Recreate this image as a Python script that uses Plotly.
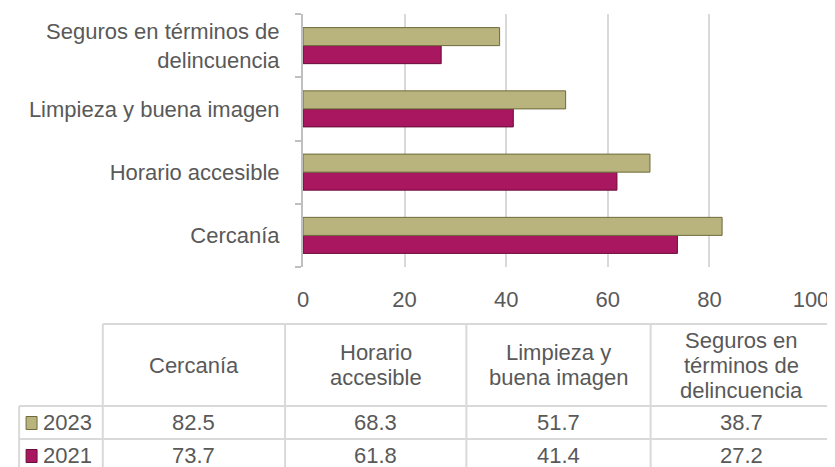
import plotly.graph_objects as go

# ---------------- data ----------------
categories = ["Cercanía", "Horario accesible", "Limpieza y buena imagen",
              "Seguros en términos de delincuencia"]
axis_labels = ["Cercanía", "Horario accesible", "Limpieza y buena imagen",
               "Seguros en términos de<br>delincuencia"]
table_headers = ["Cercanía", "Horario<br>accesible", "Limpieza y<br>buena imagen",
                 "Seguros en<br>términos de<br>delincuencia"]
series_names = ["2023", "2021"]
values_2023 = [82.5, 68.3, 51.7, 38.7]
values_2021 = [73.7, 61.8, 41.4, 27.2]
x_ticks = [0, 20, 40, 60, 80, 100]

# ---------------- style ----------------
FONT = "Arial, Liberation Sans, sans-serif"
TXT = "#595959"
GRID = "#D9D9D9"
FILL = {"2023": "#B9B47E", "2021": "#A8175F"}
EDGE = {"2023": "#6E6A3C", "2021": "#6A0C3A"}
FS = 22

OFF = 8  # page body margin of the browser
W, H = 835 - OFF, 467 - OFF
L, R, T, B = 303 - OFF, 813 - OFF, 14 - OFF, 267 - OFF


def px(x):
    """window pixel -> paper x"""
    return (x - OFF - L) / (R - L)


def py(y):
    """window pixel -> paper y"""
    return (B - (y - OFF)) / (B - T)


fig = go.Figure()
series_vals = {"2023": values_2023, "2021": values_2021}
for name in ["2021", "2023"]:
    fig.add_trace(go.Bar(
        y=categories, x=series_vals[name], name=name, orientation="h",
        marker=dict(color=FILL[name], line=dict(color=EDGE[name], width=1)),
        hoverinfo="x+y",
    ))

fig.update_layout(
    width=W, height=H, autosize=False,
    margin=dict(l=L, r=W - R, t=T, b=H - B, pad=0),
    paper_bgcolor="white", plot_bgcolor="white",
    barmode="group", bargap=0.43, bargroupgap=0,
    showlegend=False,
    font=dict(family=FONT, size=FS, color=TXT),
)
fig.update_xaxes(
    range=[0, 100], tickvals=x_ticks, showgrid=True, gridcolor=GRID, gridwidth=2,
    zeroline=False, showline=False, ticks="", ticklabelstandoff=17,
    tickfont=dict(family=FONT, size=FS, color=TXT), fixedrange=True,
)
fig.update_yaxes(
    type="category", categoryorder="array", categoryarray=categories,
    tickvals=categories, ticktext=axis_labels,
    showline=True, linecolor="#BFBFBF", linewidth=2,
    ticks="outside", tickson="boundaries", ticklen=6, tickcolor="#BFBFBF", tickwidth=2,
    ticklabelstandoff=17, showgrid=False,
    tickfont=dict(family=FONT, size=FS, color=TXT), fixedrange=True,
)

# ---------------- data table below the chart ----------------
col_edges = [102, 285, 467, 652, 835]
row_edges = [324, 406, 439, 472]
label_left = 18
line_style = dict(color=GRID, width=2)
shapes = []


def hline(x0, x1, y):
    shapes.append(dict(type="line", xref="paper", yref="paper",
                       x0=px(x0), x1=px(x1), y0=py(y), y1=py(y), line=line_style))


def vline(x, y0, y1):
    shapes.append(dict(type="line", xref="paper", yref="paper",
                       x0=px(x), x1=px(x), y0=py(y0), y1=py(y1), line=line_style))


hline(col_edges[0], col_edges[-1], row_edges[0])
for y in row_edges[1:]:
    hline(label_left, col_edges[-1], y)
vline(label_left, row_edges[1], row_edges[-1])
for x in col_edges[:-1]:
    vline(x, row_edges[0], row_edges[-1])

annotations = []
header_mid = (row_edges[0] + row_edges[1]) / 2
line_gap = 25
for i, head in enumerate(table_headers):
    cx = (col_edges[i] + col_edges[i + 1]) / 2
    lines = head.split("<br>")
    n = len(lines)
    for j, ln in enumerate(lines):
        yy = header_mid + (j - (n - 1) / 2) * line_gap
        annotations.append(dict(xref="paper", yref="paper", x=px(cx), y=py(yy),
                                text=ln, showarrow=False, xanchor="center",
                                yanchor="middle", font=dict(family=FONT, size=FS, color=TXT)))

for r, name in enumerate(series_names):
    cy = (row_edges[r + 1] + row_edges[r + 2]) / 2
    # legend swatch
    shapes.append(dict(type="rect", xref="paper", yref="paper",
                       x0=px(25), x1=px(36), y0=py(cy - 6), y1=py(cy + 7),
                       fillcolor=FILL[name], line=dict(color=EDGE[name], width=1)))
    annotations.append(dict(xref="paper", yref="paper", x=px(40), y=py(cy),
                            text=name, showarrow=False, xanchor="left", yanchor="middle",
                            font=dict(family=FONT, size=FS, color=TXT)))
    for i, v in enumerate(series_vals[name]):
        cx = (col_edges[i] + col_edges[i + 1]) / 2
        annotations.append(dict(xref="paper", yref="paper", x=px(cx), y=py(cy),
                                text=f"{v:.1f}", showarrow=False, xanchor="center",
                                yanchor="middle", font=dict(family=FONT, size=FS, color=TXT)))

fig.update_layout(shapes=shapes, annotations=annotations)

fig.write_html("out.html", config={"displayModeBar": False})
